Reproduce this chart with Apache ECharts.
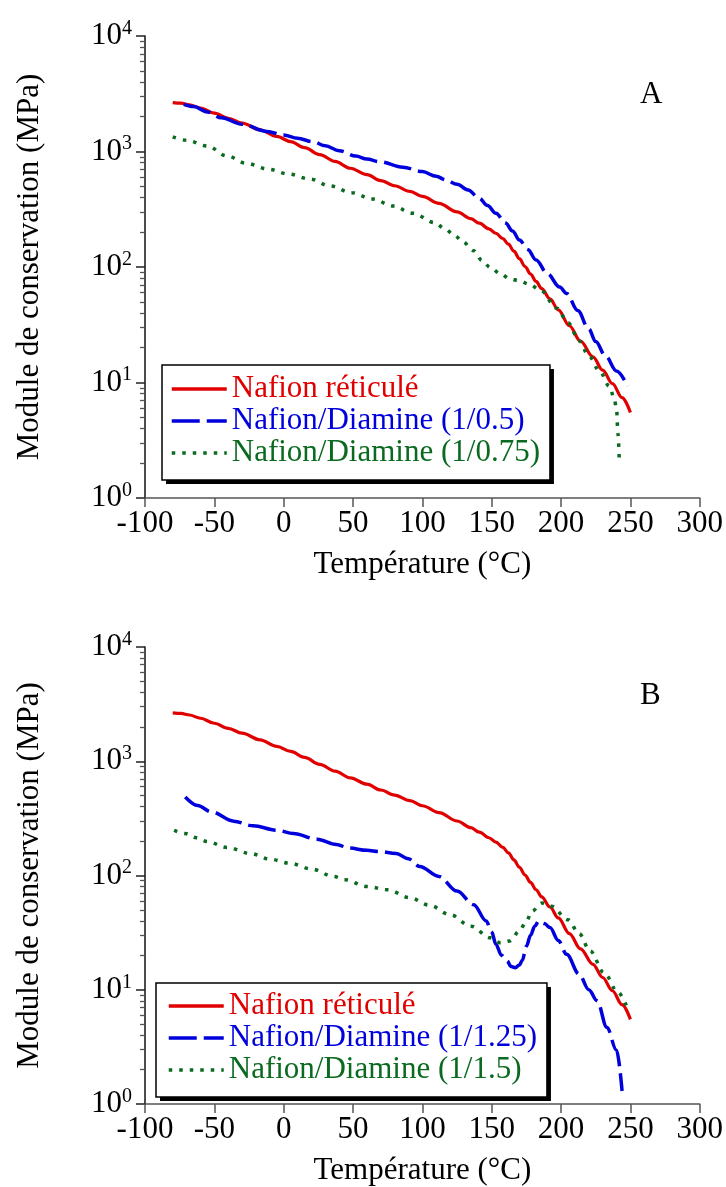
<!DOCTYPE html>
<html><head><meta charset="utf-8">
<script src="https://cdn.jsdelivr.net/npm/echarts@6/dist/echarts.min.js"></script>
<style>html,body{margin:0;padding:0;background:#fff}#c{width:726px;height:1187px}</style>
</head><body><div id="c"></div>
<script>
// ---- data (temperature °C, storage modulus MPa) ----
const reticule = [[-80,2650],[-74,2620],[-68,2540],[-60,2380],[-50,2150],[-40,1940],[-30,1760],[-17,1540],[-5,1350],[5,1220],[15,1080],[26,940],[37,820],[48,716],[60,630],[70,560],[80,505],[91,452],[100,408],[112,355],[125,300],[135,262],[141,240],[148,214],[153,196],[158,176],[162,158],[166,137],[170,118],[174,101],[178,87],[182,75],[186,65],[192,53],[198,42.5],[206,31],[214,22.8],[223,16.7],[230,12.8],[237,9.8],[244,7.4],[250,5.5]];
const diamine05 = [[-72,2560],[-65,2450],[-55,2200],[-45,1960],[-30,1720],[-12,1490],[0,1390],[10,1300],[21,1216],[30,1120],[40,1016],[52,914],[60,860],[69,817],[86,730],[100,670],[110,610],[117,567],[125,520],[133,464],[141,393],[147,340],[153,292],[160,240],[165,205],[170,171],[176,142],[182,115],[190,88],[199,67],[204,59],[212,42],[220,29],[225,22.6],[232,17],[240,12.6],[248,9.3]];
const diamine075 = [[-80,1340],[-70,1250],[-55,1116],[-41,915],[-27,790],[-11,702],[3,639],[19,578],[33,505],[49,440],[64,388],[79,337],[93,292],[109,242],[116,215],[123,189],[129,166],[137,138],[143,114],[149,99],[156,88],[163,79],[170,76],[177,71],[185,63],[197,44],[205,33],[213,23],[220,17],[228,12.4],[235,9.2],[238,7.5],[240,6],[241,3.6],[242,2.1]];
const diamine125 = [[-71,486],[-62,410],[-52,360],[-36,299],[-22,272],[-5,249],[7,233],[24,208],[38,187],[47,174],[60,166],[69,162],[81,156],[90,140],[98,120],[112,98],[125,73],[137,55.5],[146,40],[150,32],[153,25],[157,20],[161,17.9],[164,16],[167,15.6],[170,16.5],[172,18],[175,24],[178,30],[181,36],[184,40],[188,38],[192,35],[198,27],[204,20.4],[213,13.7],[220,10],[226,8],[233,4.7],[240,2.95],[244,1.3]];
const diamine15 = [[-79,249],[-71,233],[-63,214],[-55,198],[-41,176],[-24,156],[-10,139],[4.5,128],[20,114],[36,98],[44,92],[60,80],[75,75],[91,64],[105,55],[120,45.4],[135,36],[149,28.5],[156,25.8],[163,26.7],[170,32.6],[175,40],[179,48.6],[186,57.4],[193,53.8],[205,41],[213,31],[221,21.8],[231,14.1],[241,9.5],[247,7.3]];

const namesA = ['Nafion réticulé','Nafion/Diamine (1/0.5)','Nafion/Diamine (1/0.75)'];
const namesB = ['Nafion réticulé','Nafion/Diamine (1/1.25)','Nafion/Diamine (1/1.5)'];
const panelLetters = ['A','B'];
const xTitle = 'Température (°C)';
const yTitle = 'Module de conservation (MPa)';
const minorMultipliers = [2,3,4,5,6,7,8,9];
const decades = [0,1,2,3];

const FONT = 'Liberation Serif';
const FS = 31;
const RED = '#e00000', BLUE = '#0000dd', GREEN = '#0a6a20';
const minorLog = [];
decades.forEach(k => minorMultipliers.forEach(m => minorLog.push(k + Math.log10(m))));

const grids = [
  {left:145, top:36, width:555, height:462},
  {left:145, top:647, width:555, height:460}
];

function xAx(gi){
  return {type:'value', gridIndex:gi, min:-100, max:300, interval:50,
    axisLine:{show:true, onZero:false, lineStyle:{color:'#555', width:1.5}},
    axisTick:{show:true, length:9, lineStyle:{color:'#555', width:1.5}},
    axisLabel:{color:'#000', fontFamily:FONT, fontSize:FS, margin:10},
    splitLine:{show:false},
    name:xTitle, nameLocation:'middle', nameGap:51,
    nameTextStyle:{color:'#000', fontFamily:FONT, fontSize:FS}};
}
function yAx(gi){
  return {type:'log', logBase:10, gridIndex:gi, min:1, max:10000,
    axisLine:{show:true, onZero:false, lineStyle:{color:'#111', width:1.5}},
    axisTick:{show:true, length:9, lineStyle:{color:'#222', width:1.5}},
    axisLabel:{margin:13, formatter: v => '{b|10}{s|' + Math.round(Math.log10(v)) + '}',
      rich:{b:{fontFamily:FONT, fontSize:FS, color:'#000'},
            s:{fontFamily:FONT, fontSize:20, color:'#000', padding:[0,0,15,0]}}},
    splitLine:{show:false},
    name:yTitle, nameLocation:'middle', nameGap:100,
    nameTextStyle:{color:'#000', fontFamily:FONT, fontSize:FS}};
}
function yMinor(gi){
  return {type:'value', gridIndex:gi, min:0, max:4, position:'left',
    axisLine:{show:false, onZero:false}, axisLabel:{show:false}, splitLine:{show:false},
    axisTick:{show:true, length:5, customValues:minorLog, lineStyle:{color:'#555', width:1.3}}};
}
function ser(name, data, gi, color, type, width){
  return {type:'line', name, data, xAxisIndex:gi, yAxisIndex:gi*2, symbol:'none', showSymbol:false,
    smooth:0.35, smoothMonotone:'x', silent:true,
    lineStyle:{color, width, type, cap:'butt'}, itemStyle:{color}};
}
function leg(left, top, padding, names, shadow){
  const cols = [RED, BLUE, GREEN];
  const base = {orient:'vertical', left, top, padding, itemGap:0, itemWidth:55, itemHeight:14,
    selectedMode:false, itemStyle:{opacity:0},
    textStyle:{fontFamily:FONT, fontSize:FS, lineHeight:32}};
  if (shadow) {
    return Object.assign(base, {z:3, backgroundColor:'#000', borderWidth:0,
      lineStyle:{width:3.5, opacity:0},
      data: names.map(n => ({name:n, textStyle:{color:'rgba(0,0,0,0)'}}))});
  }
  return Object.assign(base, {z:5, backgroundColor:'#fff', borderColor:'#000', borderWidth:1.5,
    lineStyle:{width:3.5},
    data: names.map((n,i) => ({name:n, textStyle:{color:cols[i]}}))});
}
const DASH = [28,7], DOT = [3.5,7];
const padA = [8,10,11,8], padB = [7,10,11,11];
const option = {
  animation:false,
  backgroundColor:'#fff',
  title: panelLetters.map((t,i) => ({text:t, left:640, top: i===0 ? 79 : 680, padding:0,
    textStyle:{fontFamily:FONT, fontSize:FS, fontWeight:'normal', color:'#000'}})),
  grid: grids,
  xAxis:[xAx(0), xAx(1)],
  yAxis:[yAx(0), yMinor(0), yAx(1), yMinor(1)],
  legend:[
    leg(166, 369, padA, namesA, true), leg(162, 365, padA, namesA, false),
    leg(160, 987, padB, namesB, true), leg(156, 983, padB, namesB, false)
  ],
  series:[
    ser(namesA[0], reticule, 0, RED, 'solid', 3.2),
    ser(namesA[1], diamine05, 0, BLUE, DASH, 3.5),
    ser(namesA[2], diamine075, 0, GREEN, DOT, 3.5),
    ser(namesB[0], reticule, 1, RED, 'solid', 3.2),
    ser(namesB[1], diamine125, 1, BLUE, DASH, 3.5),
    ser(namesB[2], diamine15, 1, GREEN, DOT, 3.5)
  ]
};
const chart = echarts.init(document.getElementById('c'));
chart.setOption(option);
</script></body></html>
